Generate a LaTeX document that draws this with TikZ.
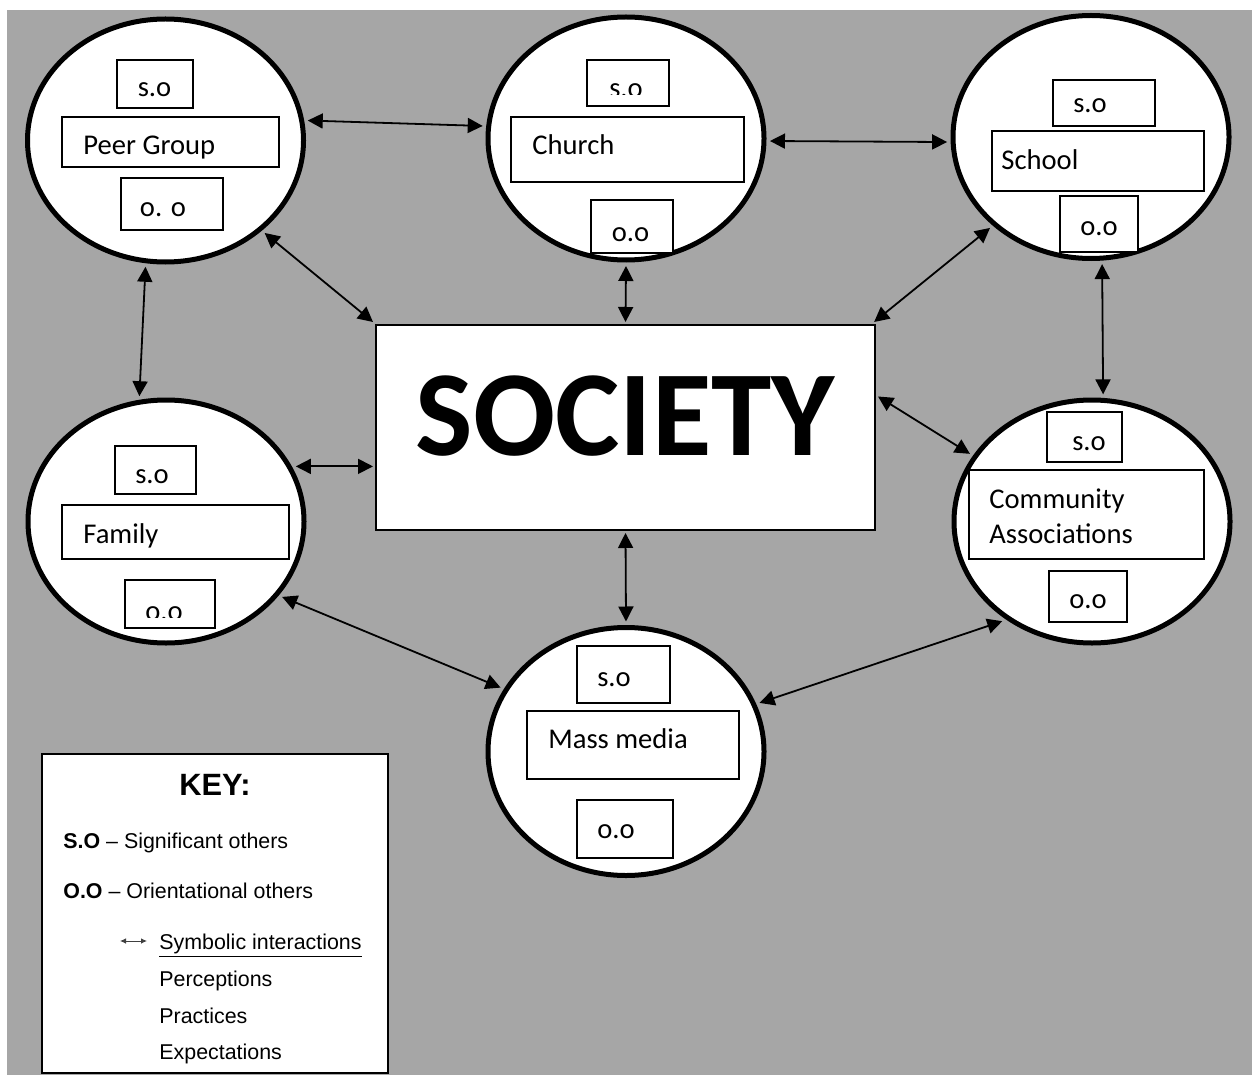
\documentclass[tikz,border=0pt]{standalone}
\usepackage{fontspec}
\setmainfont{Carlito}
\newfontfamily\keyfont{Liberation Sans}
\usetikzlibrary{shapes.geometric,arrows.meta,positioning}
\definecolor{bggray}{RGB}{166,166,166}
\tikzset{
  agent/.style   = {draw, ellipse, fill=white, line width=2.5pt, minimum width=138pt, minimum height=121.5pt, inner sep=0pt, outer sep=3pt},
  inbox/.style   = {draw, fill=white, line width=0.6pt},
  boxtext/.style = {font=\fontsize{14.3}{17}\selectfont, inner sep=0pt, anchor=base west},
  boxcode/.style = {font=\fontsize{14.3}{17}\selectfont, inner sep=0pt, anchor=base},
  link/.style    = {{Triangle[length=7.5pt,width=7.5pt]}-{Triangle[length=7.5pt,width=7.5pt]}, line width=0.9pt},
  keytext/.style = {font=\keyfont\fontsize{10.7}{13}\selectfont, inner sep=0pt, anchor=base west}
}

\begin{document}
\begin{tikzpicture}[x=0.5pt, y=-0.5pt]
    \path[use as bounding box, fill=white] (0,0) rectangle (1252,1075);
    \fill[bggray] (7,10) rectangle (1252,1075);

    \node[agent] (peer)      at (165.5,140.5) {};
    \node[agent] (church)    at (626,138.5) {};
    \node[agent] (school)    at (1091,137) {};
    \node[agent] (family)    at (166,521.5) {};
    \node[agent] (community) at (1092,521.5) {};
    \node[agent, minimum height=124pt] (mass) at (626,751.5) {};

    \node[draw, fill=white, line width=0.6pt, minimum width=249.5pt, minimum height=102.5pt,
          inner sep=0pt, outer sep=1.5pt, font=\bfseries\fontsize{60.8}{62}\selectfont,
          text height=40pt, text depth=12.5pt] (society) at (625.5,427.5) {SOCIETY};

    % peer group
    \draw[inbox] (117,60) rectangle (193,108);
    \node[boxcode] (peer so) at (154.5,97) {s.o};
    \draw[inbox] (62,117) rectangle (279,167);
    \node[boxtext] (peer name) at (83,155) {Peer Group};
    \draw[inbox] (121,178) rectangle (223,230);
    \node[boxcode] (peer oo) at (163,217) {o. o};

    % church
    \draw[inbox] (587,60) rectangle (669,106);
    \begin{scope}
      \clip (587,60) rectangle (669,95);
      \node[boxcode] (church so) at (626,98) {s.o};
    \end{scope}
    \draw[inbox] (511,117) rectangle (744,182);
    \node[boxtext] (church name) at (532,155) {Church};
    \draw[inbox] (591,200) rectangle (673,253);
    \node[boxcode] (church oo) at (630.5,242) {o.o};

    % school
    \draw[inbox] (1053,80) rectangle (1155,126);
    \node[boxcode] (school so) at (1090,113) {s.o};
    \draw[inbox] (992,131) rectangle (1204,191);
    \node[boxtext] (school name) at (1001,170) {School};
    \draw[inbox] (1060,196) rectangle (1138,252);
    \node[boxcode] (school oo) at (1099,235) {o.o};

    % family
    \draw[inbox] (115,446) rectangle (196,494);
    \node[boxcode] (family so) at (152,483) {s.o};
    \draw[inbox] (62,505) rectangle (289,559);
    \node[boxtext] (family name) at (83,543) {Family};
    \draw[inbox] (125,580) rectangle (215,628);
    \begin{scope}
      \clip (125,580) rectangle (215,617);
      \node[boxcode] (family oo) at (164,620.5) {o.o};
    \end{scope}

    % community associations
    \draw[inbox] (1047,412) rectangle (1122,462);
    \node[boxcode] (community so) at (1089,450) {s.o};
    \draw[inbox] (969,470) rectangle (1204,559);
    \node[boxtext] (community name) at (989,508) {Community};
    \node[boxtext] (community name2) at (989,543) {Associations};
    \draw[inbox] (1049,571) rectangle (1127,622);
    \node[boxcode] (community oo) at (1088,608) {o.o};

    % mass media
    \draw[inbox] (577,646) rectangle (670,703);
    \node[boxcode] (mass so) at (614,686) {s.o};
    \draw[inbox] (527,711) rectangle (739,779);
    \node[boxtext] (mass name) at (548,748) {Mass media};
    \draw[inbox] (577,800) rectangle (673,858);
    \node[boxcode] (mass oo) at (616,838) {o.o};

    \draw[link] (peer.8) -- (church.175);
    \draw[link] (church.-1) -- (school.182);
    \draw[link] (peer.-43.5) -- (society.north west);
    \draw[link] (church.south) -- (society.north);
    \draw[link] (school.222) -- (society.23.6);
    \draw[link] (peer.261) -- (family.102);
    \draw[link] (school.275) -- (community.85);
    \draw[link] (family.23) -- (society.west |- family.23);
    \draw[link] (society.7) -- (community.151);
    \draw[link] (society.south) -- (mass.north);
    \draw[link] (family.327) -- (mass.153);
    \draw[link] (mass.20) -- (community.228);

    % key
    \node[draw, fill=white, line width=0.6pt, minimum width=173pt, minimum height=159.5pt, inner sep=0pt] (key) at (215,913.5) {};
    \node[font=\keyfont\bfseries\fontsize{15.4}{18}\selectfont, inner sep=0pt, anchor=base] (key title) at (215,795) {KEY:};
    \node[keytext] (key so) at (63,848) {\textbf{S.O} – Significant others};
    \node[keytext] (key oo) at (63,898) {\textbf{O.O} – Orientational others};
    \coordinate (keyA) at (120,941);
    \coordinate (keyB) at (147,941);
    \draw[{Latex[length=3pt,width=2.8pt]}-{Latex[length=3pt,width=2.8pt]}, line width=0.5pt, black!75] (keyA) -- (keyB);
    \node[keytext] (key sym)  at (159,949) {\underline{Symbolic interactions}};
    \node[keytext] (key perc) at (159,986) {Perceptions};
    \node[keytext] (key prac) at (159,1023) {Practices};
    \node[keytext] (key expe) at (159,1059) {Expectations};
\end{tikzpicture}
\end{document}
